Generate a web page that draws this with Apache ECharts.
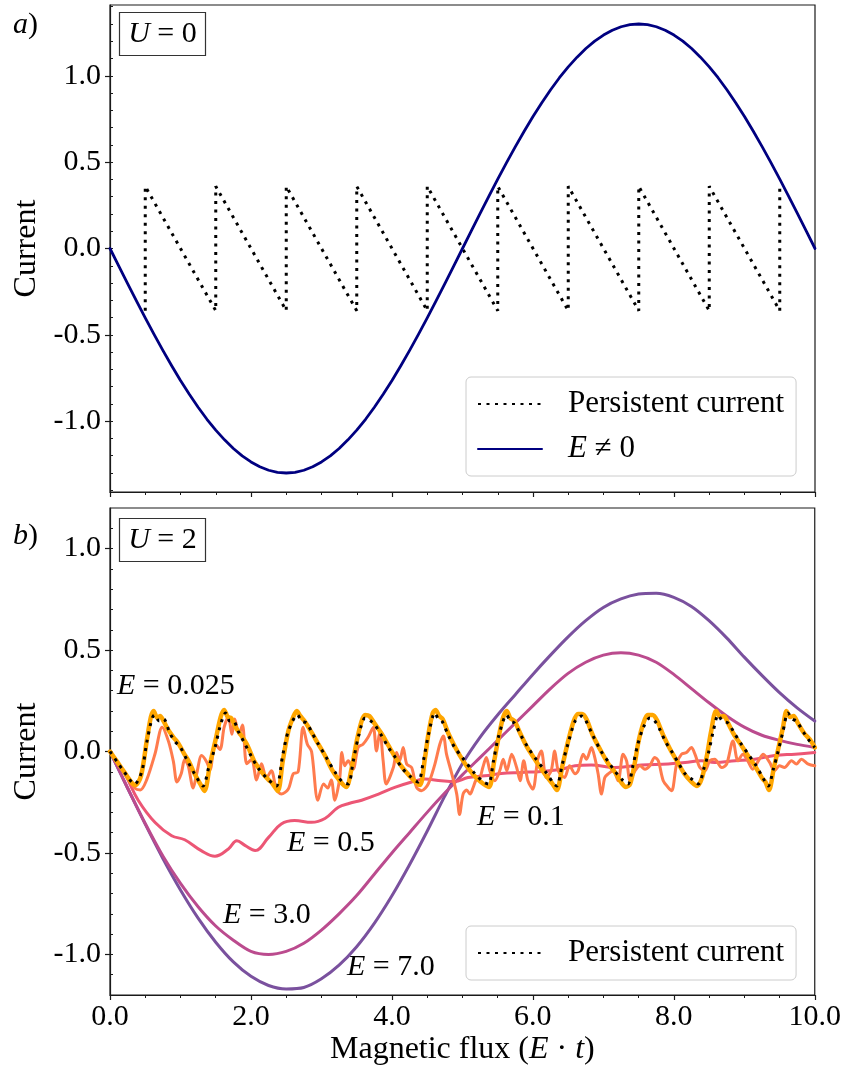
<!DOCTYPE html>
<html><head><meta charset="utf-8">
<script src="https://cdn.jsdelivr.net/npm/echarts@6/dist/echarts.min.js"></script>
<style>html,body{margin:0;padding:0;background:#fff;}#c{width:844px;height:1075px;}</style>
</head><body><div id="c"></div>
<script>
// ---------- Panel a (U = 0) ----------
const fluxA = [0,0.125,0.25,0.375,0.5,0.625,0.75,0.875,1,1.125,1.25,1.375,1.5,1.625,1.75,1.875,2,2.125,2.25,2.375,2.5,2.625,2.75,2.875,3,3.125,3.25,3.375,3.5,3.625,3.75,3.875,4,4.125,4.25,4.375,4.5,4.625,4.75,4.875,5,5.125,5.25,5.375,5.5,5.625,5.75,5.875,6,6.125,6.25,6.375,6.5,6.625,6.75,6.875,7,7.125,7.25,7.375,7.5,7.625,7.75,7.875,8,8.125,8.25,8.375,8.5,8.625,8.75,8.875,9,9.125,9.25,9.375,9.5,9.625,9.75,9.875,10];
const currentA = [0,-0.102,-0.203,-0.303,-0.402,-0.497,-0.59,-0.679,-0.764,-0.844,-0.919,-0.989,-1.052,-1.108,-1.158,-1.201,-1.236,-1.264,-1.284,-1.296,-1.3,-1.296,-1.284,-1.264,-1.236,-1.201,-1.158,-1.108,-1.052,-0.989,-0.919,-0.844,-0.764,-0.679,-0.59,-0.497,-0.402,-0.303,-0.203,-0.102,0,0.102,0.203,0.303,0.402,0.497,0.59,0.679,0.764,0.844,0.919,0.989,1.052,1.108,1.158,1.201,1.236,1.264,1.284,1.296,1.3,1.296,1.284,1.264,1.236,1.201,1.158,1.108,1.052,0.989,0.919,0.844,0.764,0.679,0.59,0.497,0.402,0.303,0.203,0.102,0];
const persistFluxA = [0.5,0.5,1.5,1.5,2.5,2.5,3.5,3.5,4.5,4.5,5.5,5.5,6.5,6.5,7.5,7.5,8.5,8.5,9.5,9.5];
const persistA = [-0.36,0.36,-0.36,0.36,-0.36,0.36,-0.36,0.36,-0.36,0.36,-0.36,0.36,-0.36,0.36,-0.36,0.36,-0.36,0.36,-0.36,0.36];

// ---------- Panel b (U = 2) : [flux, current] ----------
const persistB = [[0,0],[0.1,-0.05],[0.2,-0.1],[0.35,-0.16],[0.45,-0.1],[0.53,0.06],[0.63,0.18],[0.7,0.15],[0.76,0.16],[0.85,0.09],[0.92,0.05],[1.0,0.02],[1.09,-0.04],[1.2,-0.11],[1.32,-0.17],[1.4,-0.08],[1.49,0.02],[1.56,0.12],[1.64,0.19],[1.7,0.15],[1.75,0.15],[1.82,0.1],[1.91,0.04],[2.0,-0.02],[2.1,-0.08],[2.25,-0.14],[2.36,-0.17],[2.45,-0.02],[2.53,0.1],[2.66,0.18],[2.72,0.15],[2.79,0.14],[2.87,0.09],[2.95,0.04],[3.07,-0.03],[3.19,-0.1],[3.3,-0.15],[3.38,-0.16],[3.45,-0.05],[3.53,0.08],[3.62,0.165],[3.7,0.15],[3.76,0.13],[3.85,0.08],[3.95,0.02],[4.05,-0.03],[4.14,-0.08],[4.25,-0.12],[4.37,-0.15],[4.45,-0.04],[4.52,0.085],[4.61,0.19],[4.66,0.16],[4.71,0.15],[4.8,0.08],[4.89,0.02],[5.0,-0.03],[5.18,-0.11],[5.3,-0.15],[5.37,-0.16],[5.44,-0.05],[5.51,0.07],[5.63,0.18],[5.68,0.15],[5.74,0.14],[5.83,0.08],[5.93,0.02],[6.05,-0.04],[6.17,-0.095],[6.3,-0.16],[6.34,-0.17],[6.42,-0.06],[6.5,0.04],[6.6,0.15],[6.69,0.175],[6.74,0.16],[6.85,0.08],[6.97,0.0],[7.07,-0.05],[7.16,-0.095],[7.27,-0.14],[7.35,-0.16],[7.42,-0.07],[7.49,0.036],[7.57,0.12],[7.66,0.165],[7.72,0.155],[7.8,0.11],[7.88,0.05],[7.97,0.0],[8.07,-0.06],[8.16,-0.11],[8.27,-0.14],[8.35,-0.16],[8.43,-0.08],[8.49,-0.01],[8.56,0.1],[8.63,0.18],[8.69,0.15],[8.77,0.14],[8.86,0.09],[8.96,0.035],[9.05,-0.01],[9.15,-0.06],[9.25,-0.12],[9.34,-0.17],[9.41,-0.09],[9.48,0.0],[9.55,0.1],[9.62,0.19],[9.68,0.16],[9.74,0.15],[9.85,0.09],[9.93,0.05],[10,0.02]];
const e0025 = [[0,0],[0.1,-0.05],[0.2,-0.1],[0.3,-0.15],[0.36,-0.165],[0.44,-0.12],[0.52,0.05],[0.58,0.17],[0.62,0.2],[0.67,0.165],[0.71,0.175],[0.76,0.15],[0.82,0.11],[0.9,0.07],[0.97,0.04],[1.05,-0.01],[1.12,-0.05],[1.2,-0.11],[1.28,-0.16],[1.34,-0.195],[1.42,-0.06],[1.5,0.06],[1.57,0.17],[1.62,0.205],[1.67,0.17],[1.72,0.165],[1.78,0.12],[1.86,0.08],[1.95,0.03],[2.05,-0.05],[2.15,-0.1],[2.25,-0.14],[2.3,-0.155],[2.38,-0.195],[2.45,-0.05],[2.53,0.1],[2.6,0.17],[2.65,0.2],[2.7,0.175],[2.76,0.15],[2.85,0.1],[2.95,0.04],[3.05,-0.02],[3.15,-0.09],[3.25,-0.14],[3.35,-0.175],[3.43,-0.08],[3.5,0.05],[3.57,0.15],[3.62,0.18],[3.68,0.175],[3.75,0.14],[3.85,0.09],[3.95,0.03],[4.05,-0.03],[4.15,-0.08],[4.25,-0.12],[4.35,-0.155],[4.4,-0.165],[4.47,-0.03],[4.52,0.09],[4.58,0.19],[4.62,0.205],[4.67,0.175],[4.72,0.16],[4.8,0.09],[4.9,0.02],[5.0,-0.04],[5.1,-0.09],[5.2,-0.13],[5.3,-0.16],[5.38,-0.175],[5.45,-0.05],[5.52,0.08],[5.58,0.17],[5.63,0.2],[5.68,0.165],[5.74,0.15],[5.82,0.09],[5.92,0.02],[6.05,-0.05],[6.17,-0.11],[6.28,-0.16],[6.34,-0.19],[6.42,-0.07],[6.5,0.05],[6.58,0.15],[6.64,0.185],[6.7,0.185],[6.76,0.16],[6.85,0.08],[6.97,0.0],[7.07,-0.06],[7.16,-0.1],[7.25,-0.15],[7.32,-0.175],[7.38,-0.16],[7.45,-0.05],[7.5,0.05],[7.57,0.14],[7.63,0.18],[7.7,0.18],[7.76,0.155],[7.85,0.08],[7.95,0.01],[8.05,-0.05],[8.15,-0.11],[8.25,-0.15],[8.33,-0.17],[8.4,-0.13],[8.47,-0.02],[8.53,0.1],[8.6,0.2],[8.66,0.17],[8.71,0.175],[8.77,0.14],[8.86,0.08],[8.96,0.03],[9.05,-0.02],[9.15,-0.07],[9.25,-0.13],[9.3,-0.15],[9.35,-0.19],[9.42,-0.08],[9.48,0.01],[9.55,0.12],[9.6,0.2],[9.65,0.17],[9.7,0.175],[9.76,0.14],[9.85,0.09],[9.93,0.06],[10,0.02]];
const e01 = [[0,0],[0.21,-0.11],[0.35,-0.18],[0.43,-0.19],[0.52,-0.14],[0.64,-0.01],[0.74,0.12],[0.83,0.05],[0.9,-0.05],[0.95,-0.15],[1.01,-0.11],[1.06,-0.04],[1.11,-0.07],[1.18,-0.18],[1.23,-0.11],[1.3,-0.02],[1.37,-0.05],[1.42,-0.09],[1.49,0.04],[1.56,0.01],[1.62,0.12],[1.68,0.17],[1.73,0.085],[1.77,0.16],[1.83,0.085],[1.88,0.13],[1.94,-0.06],[2.01,-0.04],[2.08,-0.14],[2.15,-0.06],[2.22,-0.13],[2.29,-0.095],[2.36,-0.185],[2.43,-0.21],[2.53,-0.185],[2.6,-0.11],[2.67,-0.1],[2.74,0.12],[2.8,0.036],[2.86,0.0],[2.95,-0.24],[3.03,-0.16],[3.09,-0.18],[3.14,-0.14],[3.19,-0.24],[3.26,-0.13],[3.29,-0.005],[3.33,-0.07],[3.38,-0.046],[3.45,-0.087],[3.52,0.02],[3.59,0.036],[3.66,0.069],[3.735,0.118],[3.78,0.003],[3.83,0.1],[3.876,-0.046],[3.92,-0.16],[4.02,-0.079],[4.066,-0.005],[4.11,-0.046],[4.16,0.02],[4.21,-0.062],[4.28,-0.079],[4.35,-0.177],[4.42,-0.193],[4.515,-0.16],[4.61,-0.062],[4.68,0.036],[4.73,0.077],[4.775,-0.013],[4.85,-0.11],[4.92,-0.21],[4.96,-0.31],[5.01,-0.21],[5.06,-0.19],[5.11,-0.21],[5.15,-0.18],[5.2,-0.136],[5.25,-0.128],[5.29,-0.079],[5.34,-0.03],[5.39,-0.095],[5.46,-0.144],[5.53,-0.095],[5.58,-0.038],[5.63,-0.095],[5.7,-0.013],[5.77,-0.079],[5.82,-0.144],[5.87,-0.046],[5.93,-0.144],[6.0,-0.185],[6.07,-0.038],[6.12,0.003],[6.19,-0.128],[6.26,-0.095],[6.31,0.003],[6.36,-0.095],[6.45,-0.128],[6.52,-0.07],[6.6,-0.11],[6.643,-0.095],[6.714,-0.013],[6.761,-0.038],[6.832,0.02],[6.879,-0.03],[6.926,-0.11],[6.974,-0.21],[7.021,-0.128],[7.069,-0.11],[7.14,-0.095],[7.21,-0.144],[7.28,-0.013],[7.33,-0.046],[7.38,-0.144],[7.45,-0.095],[7.52,-0.07],[7.59,-0.087],[7.66,-0.07],[7.73,-0.03],[7.78,-0.046],[7.85,-0.144],[7.92,-0.177],[7.97,-0.193],[8.04,-0.062],[8.11,-0.013],[8.18,-0.005],[8.25,0.02],[8.3,-0.013],[8.37,-0.079],[8.44,-0.095],[8.51,-0.046],[8.58,-0.038],[8.68,-0.079],[8.75,-0.062],[8.84,0.052],[8.91,-0.046],[8.98,-0.013],[9.05,-0.046],[9.12,-0.087],[9.2,-0.046],[9.27,-0.013],[9.36,-0.054],[9.43,-0.095],[9.5,-0.07],[9.57,-0.079],[9.67,-0.046],[9.74,-0.062],[9.81,-0.038],[9.91,-0.062],[10,-0.07]];
const e05 = [[0,0],[0.21,-0.11],[0.4,-0.24],[0.64,-0.35],[0.875,-0.415],[1.06,-0.435],[1.3,-0.49],[1.49,-0.516],[1.68,-0.48],[1.8,-0.44],[1.92,-0.464],[2.06,-0.488],[2.25,-0.423],[2.43,-0.357],[2.62,-0.34],[2.86,-0.349],[3.05,-0.33],[3.24,-0.275],[3.4,-0.255],[3.57,-0.24],[3.81,-0.21],[4.04,-0.177],[4.28,-0.15],[4.47,-0.136],[4.7,-0.144],[4.89,-0.148],[5.08,-0.128],[5.32,-0.12],[5.55,-0.108],[5.84,-0.103],[6.12,-0.098],[6.41,-0.087],[6.6,-0.07],[6.83,-0.066],[7.16,-0.079],[7.54,-0.066],[7.92,-0.062],[8.16,-0.054],[8.39,-0.046],[8.58,-0.054],[8.87,-0.046],[9.15,-0.038],[9.43,-0.02],[9.72,-0.013],[10,-0.005]];
const fluxB = [0,0.25,0.5,0.75,1,1.25,1.5,1.75,2,2.25,2.5,2.75,3,3.25,3.5,3.75,4,4.25,4.5,4.75,5,5.25,5.5,5.75,6,6.25,6.5,6.75,7,7.25,7.5,7.75,8,8.25,8.5,8.75,9,9.25,9.5,9.75,10];
const e30 = [0,-0.18,-0.355,-0.515,-0.65,-0.765,-0.86,-0.93,-0.985,-1.0,-0.985,-0.945,-0.88,-0.8,-0.71,-0.605,-0.5,-0.4,-0.3,-0.205,-0.115,-0.03,0.055,0.14,0.225,0.31,0.385,0.44,0.475,0.487,0.475,0.44,0.38,0.31,0.24,0.175,0.12,0.08,0.055,0.035,0.02];
const e70 = [0,-0.181,-0.358,-0.527,-0.682,-0.821,-0.94,-1.037,-1.108,-1.153,-1.17,-1.163,-1.12,-1.053,-0.962,-0.847,-0.711,-0.558,-0.393,-0.22,-0.06,0.07,0.18,0.28,0.38,0.475,0.565,0.645,0.71,0.752,0.776,0.78,0.76,0.715,0.645,0.56,0.465,0.375,0.29,0.215,0.15];

// tick values
const yMajorA = [-1,-0.5,0,0.5,1];
const yMinorA = [-1.4,-1.3,-1.2,-1.1,-1,-0.9,-0.8,-0.7,-0.6,-0.5,-0.4,-0.3,-0.2,-0.1,0,0.1,0.2,0.3,0.4,0.5,0.6,0.7,0.8,0.9,1,1.1,1.2,1.3,1.4];
const yMajorB = [-1,-0.5,0,0.5,1];
const yMinorB = [-1.1,-1,-0.9,-0.8,-0.7,-0.6,-0.5,-0.4,-0.3,-0.2,-0.1,0,0.1,0.2,0.3,0.4,0.5,0.6,0.7,0.8,0.9,1,1.1];

const FF = '"Liberation Serif", "Times New Roman", serif';
const FS = 30;
const FL = 32;
const zip = (xs, ys) => xs.map((x, i) => [x, ys[i]]);
const fmt = v => (Math.abs(v) < 1e-9 ? 0 : v).toFixed(1);

const chart = echarts.init(document.getElementById('c'), null, {renderer: 'canvas'});
const AX = '#1a1a1a';
function xAxis(grid, labels) {
  return {
    type: 'value', gridIndex: grid, min: 0, max: 10, interval: 2,
    axisLine: {show: true, onZero: false, lineStyle: {color: AX, width: 1.2}},
    axisTick: {show: true, length: 5, lineStyle: {color: AX, width: 1.2}},
    minorTick: {show: true, splitNumber: 4, length: 3, lineStyle: {color: AX, width: 1}},
    splitLine: {show: false},
    axisLabel: {show: labels, margin: 7, color: '#000', fontFamily: FF, fontSize: FS, formatter: fmt},
    name: labels ? 'Magnetic flux ({i|E} · {i|t})' : '',
    nameLocation: 'middle', nameGap: 39,
    nameTextStyle: {color: '#000', fontFamily: FF, fontSize: FL,
      rich: {i: {fontStyle: 'italic', fontFamily: FF, fontSize: FL, color: '#000'}}}
  };
}
function yMajor(grid, lim, majors) {
  return {
    type: 'value', gridIndex: grid, min: -lim, max: lim,
    axisLine: {show: true, onZero: false, lineStyle: {color: AX, width: 1.2}},
    axisTick: {show: true, length: 5, customValues: majors, lineStyle: {color: AX, width: 1.2}},
    axisLabel: {show: true, margin: 9, customValues: majors, color: '#000', fontFamily: FF, fontSize: FS, formatter: fmt},
    splitLine: {show: false},
    name: 'Current', nameLocation: 'middle', nameGap: 67, nameRotate: 90,
    nameTextStyle: {color: '#000', fontFamily: FF, fontSize: FL}
  };
}
function yMinor(grid, lim, minors) {
  return {
    type: 'value', gridIndex: grid, min: -lim, max: lim,
    axisLine: {show: false},
    axisTick: {show: true, length: 3, customValues: minors, lineStyle: {color: AX, width: 1}},
    axisLabel: {show: false},
    splitLine: {show: false}
  };
}
const line = (name, data, xi, yi, color, width, extra) => Object.assign({
  type: 'line', name, data, xAxisIndex: xi, yAxisIndex: yi,
  showSymbol: false, symbol: 'none', animation: false, silent: true,
  lineStyle: {color, width, cap: 'round', join: 'round'}, itemStyle: {color}
}, extra || {});

const txt = (x, y, rich, align) => ({
  type: 'text', x, y, silent: true, z: 100,
  style: {text: rich, fontFamily: FF, fontSize: FS, fill: '#000', verticalAlign: 'middle', align: align || 'left',
    rich: {i: {fontStyle: 'italic', fontFamily: FF, fontSize: FS, fill: '#000'}}}
});
const box = (x, y, w, h) => ({type: 'rect', z: 99, silent: true, shape: {x, y, width: w, height: h},
  style: {fill: '#fff', stroke: '#333', lineWidth: 1.2}});

const legendCommon = {
  orient: 'vertical', itemWidth: 64, itemHeight: 14, itemGap: 11,
  padding: [10, 12, 10, 11], selectedMode: false,
  itemStyle: {opacity: 0},
  backgroundColor: 'rgba(255,255,255,0.8)', borderColor: '#cccccc', borderWidth: 1, borderRadius: 5,
  textStyle: {color: '#000', fontFamily: FF, fontSize: 31, lineHeight: 34, padding: [0, 0, 0, 21],
    rich: {i: {fontStyle: 'italic', fontFamily: FF, fontSize: 31, color: '#000', lineHeight: 34}}},
  formatter: n => n === 'E≠0' ? '{i|E} ≠ 0' : 'Persistent current'
};

chart.setOption({
  animation: false,
  backgroundColor: '#fff',
  grid: [
    {left: 110, top: 5, width: 705, height: 487, show: true, borderColor: AX, borderWidth: 1.2, backgroundColor: 'transparent'},
    {left: 110, top: 508, width: 705, height: 487, show: true, borderColor: AX, borderWidth: 1.2, backgroundColor: 'transparent'}
  ],
  xAxis: [xAxis(0, false), xAxis(1, true)],
  yAxis: [yMajor(0, 1.41, yMajorA), yMinor(0, 1.41, yMinorA), yMajor(1, 1.2, yMajorB), yMinor(1, 1.2, yMinorB)],
  legend: [
    Object.assign({}, legendCommon, {left: 466, top: 377, data: ['Persistent current', 'E≠0']}),
    Object.assign({}, legendCommon, {left: 466, top: 926, data: ['Persistent current b']})
  ],
  series: [
    line('Persistent current', zip(persistFluxA, persistA), 0, 0, '#000', 3,
      {lineStyle: {color: '#000', width: 3, type: [3, 5.5], cap: 'butt'}}),
    line('E≠0', zip(fluxA, currentA), 0, 0, '#000080', 2.8),
    line('E=7.0', zip(fluxB, e70), 1, 2, '#7a519e', 3, {smooth: 0.3}),
    line('E=3.0', zip(fluxB, e30), 1, 2, '#bb4b8e', 3, {smooth: 0.3}),
    line('E=0.5', e05, 1, 2, '#ec5675', 3, {smooth: 0.4}),
    line('E=0.1', e01, 1, 2, '#ff7b4d', 3, {smooth: 0.3}),
    line('E=0.025', e0025, 1, 2, '#ffa600', 4.5, {smooth: 0.3}),
    line('Persistent current b', persistB, 1, 2, '#000', 3,
      {smooth: 0.3, lineStyle: {color: '#000', width: 3, type: [3, 5.5], cap: 'butt'}})
  ],
  graphic: [
    txt(13, 25, '{i|a})'),
    txt(13, 536, '{i|b})'),
    box(119.5, 12.5, 86, 43),
    txt(162.5, 34, '{i|U} = 0', 'center'),
    box(119.5, 518.5, 86, 43),
    txt(162.5, 540, '{i|U} = 2', 'center'),
    txt(117, 686, '{i|E} = 0.025'),
    txt(287, 843, '{i|E} = 0.5'),
    txt(223, 915, '{i|E} = 3.0'),
    txt(347, 967, '{i|E} = 7.0'),
    txt(477, 817, '{i|E} = 0.1')
  ]
});
</script></body></html>
